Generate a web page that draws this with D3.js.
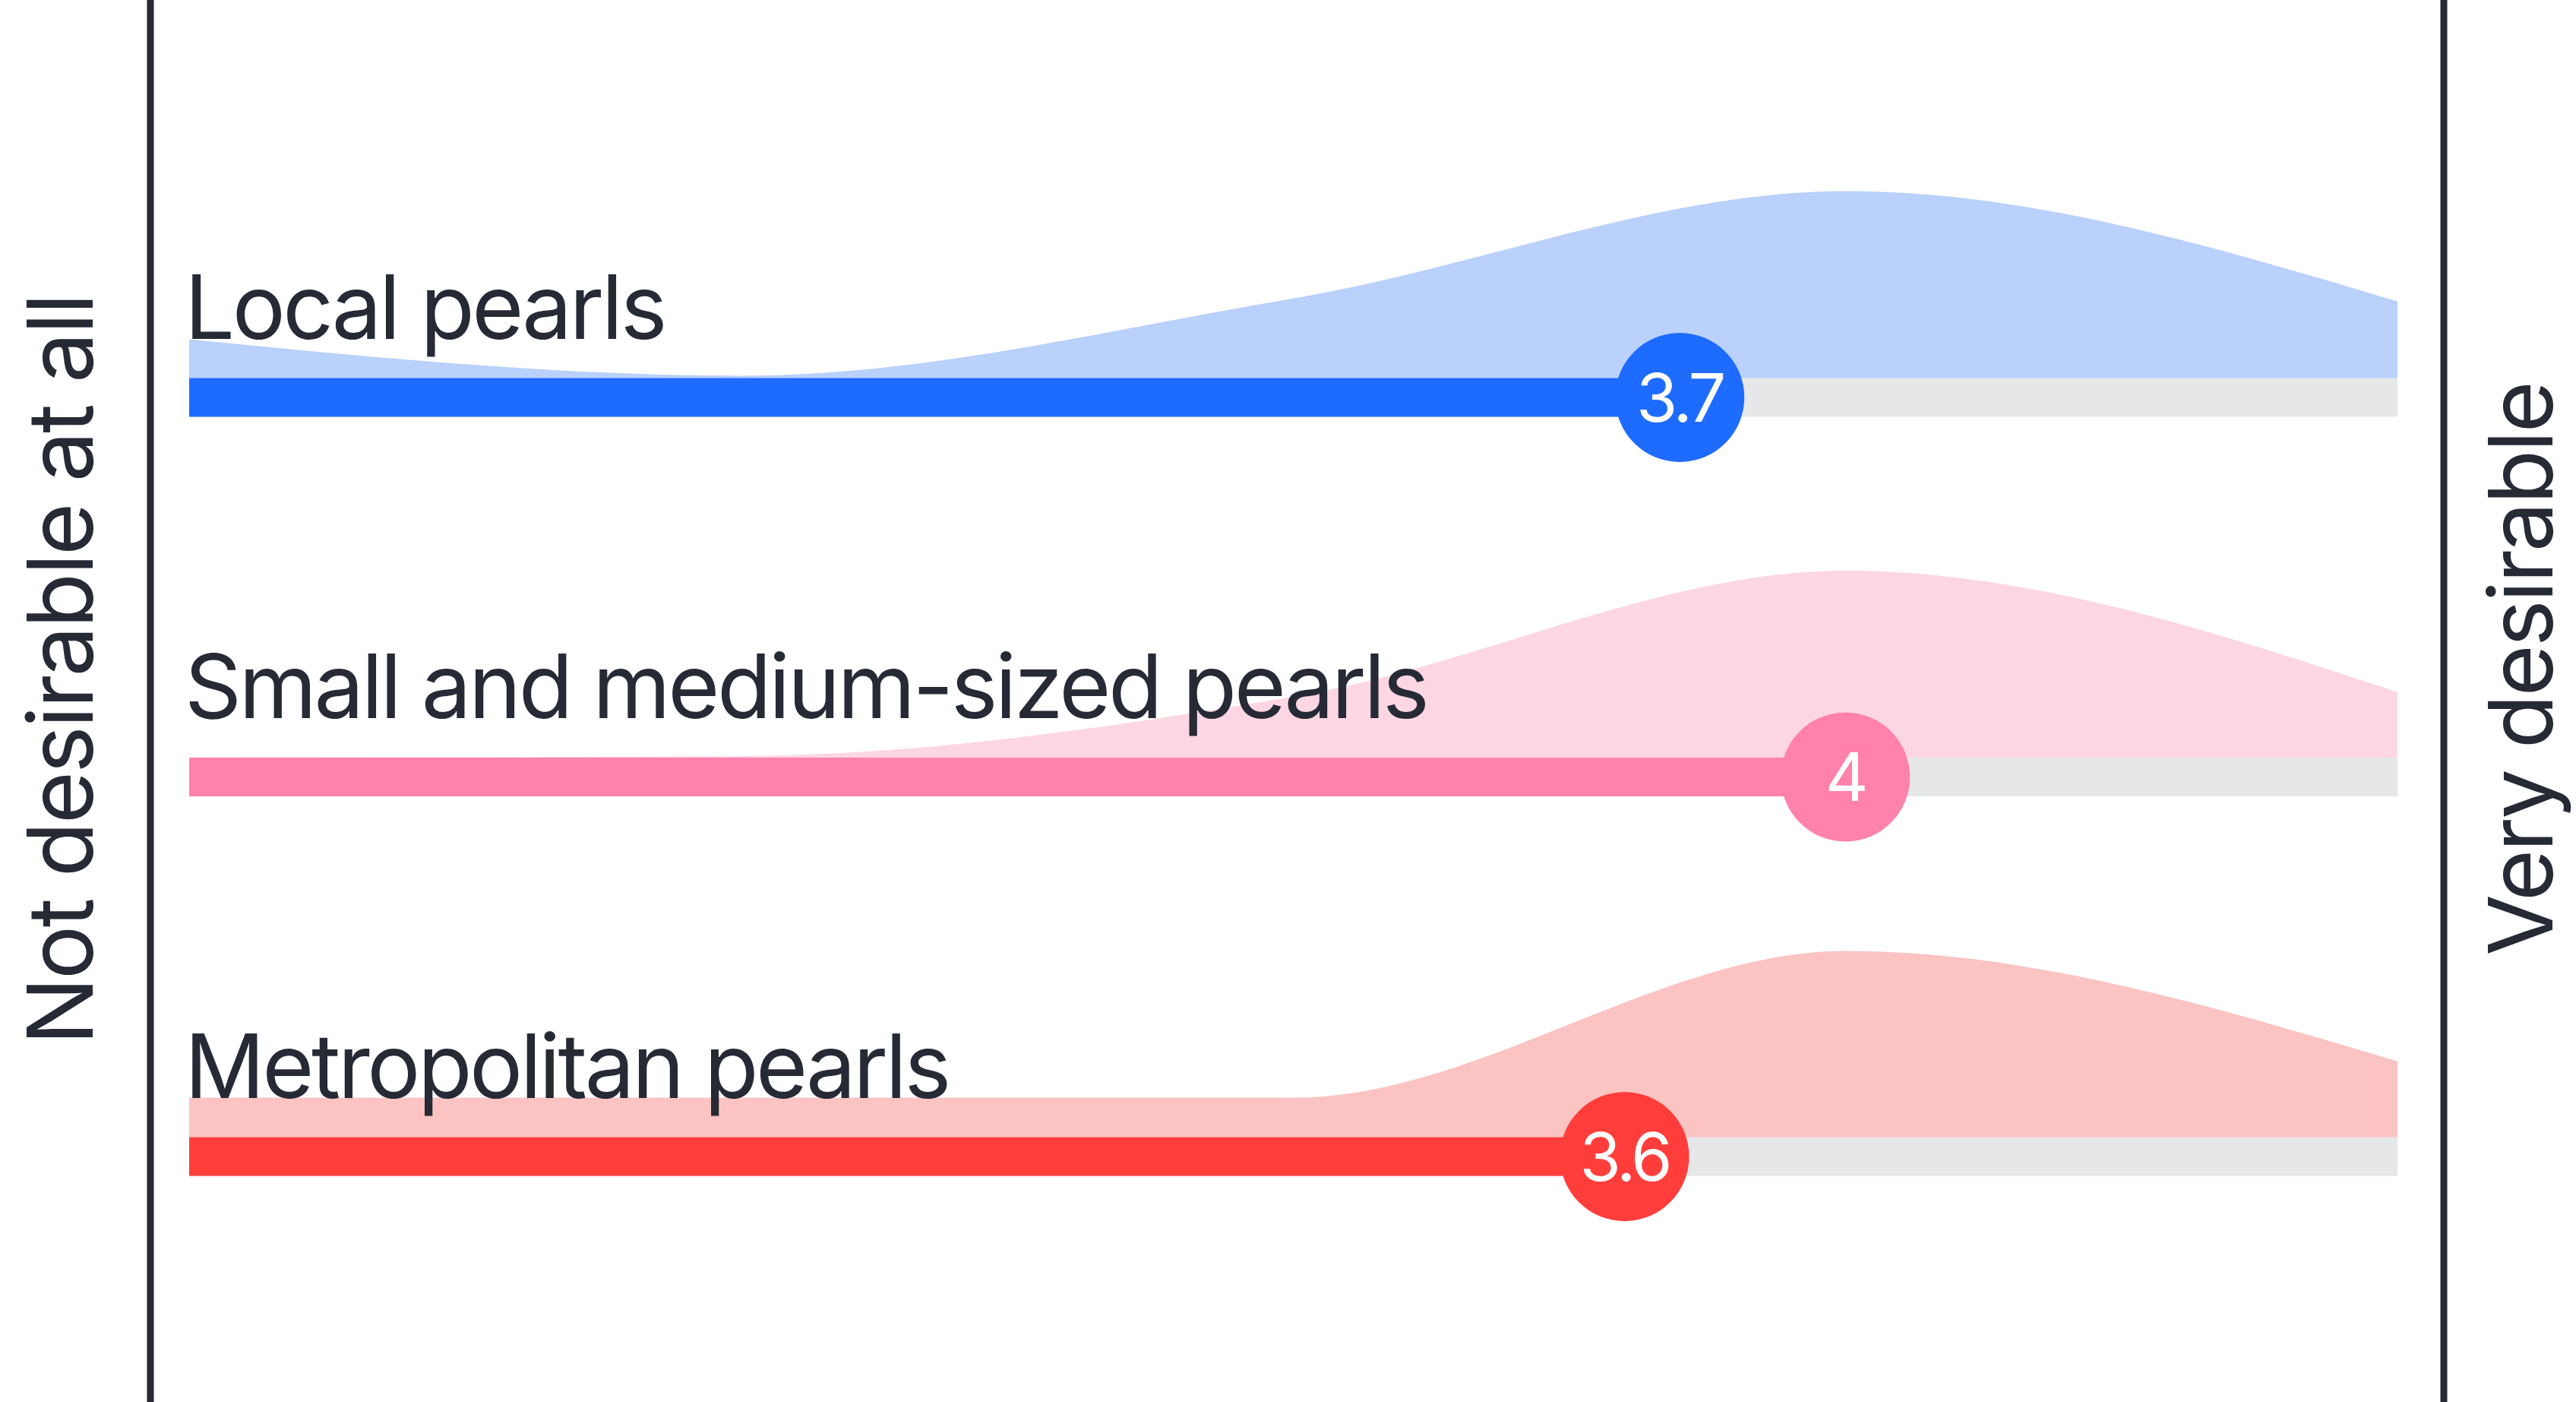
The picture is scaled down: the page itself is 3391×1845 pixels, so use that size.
<!DOCTYPE html>
<html>
<head>
<meta charset="utf-8">
<script src="https://cdn.jsdelivr.net/npm/d3@7"></script>
<style>
  html, body { margin: 0; padding: 0; background: #ffffff; }
  svg { display: block; }
  text { font-family: Inter, "Noto Sans", sans-serif; fill: #262a35; }
</style>
</head>
<body>
<svg id="chart" width="3391" height="1845"></svg>
<script>
// categories and their average score (1 = not desirable at all, 5 = very desirable)
const categories = ['Local pearls', 'Small and medium-sized pearls', 'Metropolitan pearls'];
const scores = [3.7, 4, 3.6];

// answer scale and share of answers (%) per step, one list per category
const scaleSteps = [1, 2, 3, 4, 5];
const localShare = [10.1, 0.6, 20.8, 48.8, 20.0];
const smallShare = [0, 0.4, 15.9, 48.8, 17.1];
const metroShare = [10.3, 10.3, 10.3, 48.6, 19.8];

const endLabels = ['Not desirable at all', 'Very desirable'];

const barColors = ['#1e6bff', '#ff82aa', '#ff3e3b'];
const areaColors = ['#b9d1fb', '#fdd6e3', '#fcc3c3'];

const rows = categories.map((c, i) => ({
  name: c,
  score: scores[i],
  dist: scaleSteps.map((s, j) => ({ step: s, share: [localShare, smallShare, metroShare][i][j] }))
}));

const width = 3391;
const height = 1845;
const barH = 51;

const svg = d3.select('#chart');

const xScale = d3.scaleLinear()
  .domain([1, 5])
  .range([249, 3156]);

const yRow = d3.scalePoint()
  .domain(categories)
  .range([523, 1522]);

const hScale = d3.scaleLinear()
  .domain([0, 50])
  .range([0, 252]);

// distribution areas sitting on top of each bar
const row = svg.selectAll('g.row')
  .data(rows)
  .enter()
  .append('g')
  .attr('class', 'row')
  .attr('transform', d => `translate(0, ${yRow(d.name) - barH / 2})`);

row.append('path')
  .attr('fill', (d, i) => areaColors[i])
  .attr('d', d => d3.area()
    .x(p => xScale(p.step))
    .y0(barH / 2)
    .y1(p => -hScale(p.share))
    .curve(d3.curveMonotoneX)(d.dist));

// grey track
row.append('rect')
  .attr('x', xScale(1))
  .attr('y', 0)
  .attr('width', xScale(5) - xScale(1))
  .attr('height', barH)
  .attr('fill', '#e6e7e9');

// coloured part up to the score
row.append('rect')
  .attr('x', xScale(1))
  .attr('y', 0)
  .attr('width', d => xScale(d.score) - xScale(1))
  .attr('height', barH)
  .attr('fill', (d, i) => barColors[i]);

row.append('text')
  .attr('x', xScale(1) - 6)
  .attr('y', -52)
  .attr('font-size', 117)
  .attr('letter-spacing', -3.5)
  .text(d => d.name);

row.append('circle')
  .attr('cx', d => xScale(d.score))
  .attr('cy', barH / 2)
  .attr('r', 85)
  .attr('fill', (d, i) => barColors[i]);

row.append('text')
  .attr('x', d => xScale(d.score))
  .attr('y', barH / 2)
  .attr('dy', '0.36em')
  .attr('text-anchor', 'middle')
  .attr('font-size', 88)
  .attr('letter-spacing', -4)
  .style('fill', '#ffffff')
  .text(d => d3.format('')(d.score));

// the two end lines of the scale
svg.selectAll('line.edge')
  .data([198, 3217])
  .enter()
  .append('line')
  .attr('class', 'edge')
  .attr('x1', d => d)
  .attr('x2', d => d)
  .attr('y1', 0)
  .attr('y2', height)
  .attr('stroke', '#262a35')
  .attr('stroke-width', 9);

svg.append('text')
  .attr('transform', 'translate(122, 882) rotate(-90)')
  .attr('text-anchor', 'middle')
  .attr('font-size', 119)
  .attr('letter-spacing', -3)
  .text(endLabels[0]);

svg.append('text')
  .attr('transform', 'translate(3360, 881) rotate(-90)')
  .attr('text-anchor', 'middle')
  .attr('font-size', 117)
  .attr('letter-spacing', -3)
  .text(endLabels[1]);
</script>
</body>
</html>
